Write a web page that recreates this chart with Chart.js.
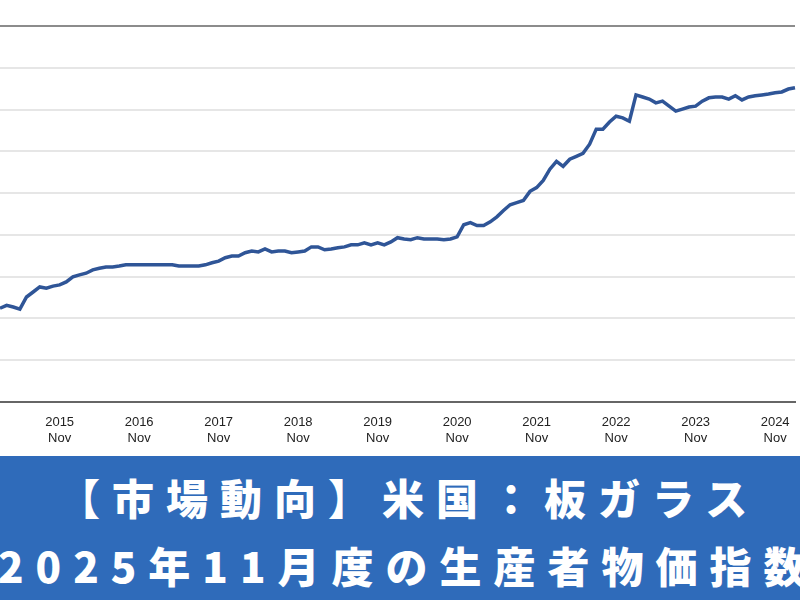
<!DOCTYPE html>
<html>
<head>
<meta charset="utf-8">
<script src="https://cdn.jsdelivr.net/npm/chart.js@4/dist/chart.umd.min.js"></script>
<style>
  body { margin: 0; width: 800px; height: 600px; overflow: hidden; background: #fff; font-family: "Liberation Sans", Arial, sans-serif; }
  #wrap { position: absolute; left: -5px; top: 0; width: 805px; height: 456px; }
  #banner { position: absolute; left: 0; top: 456px; width: 800px; height: 144px; background: #2f6bba; overflow: hidden; }
  .t { position: absolute; white-space: nowrap; color: #fff; font-family: "Noto Sans CJK JP", sans-serif; font-weight: 900; font-size: 42px; letter-spacing: 12px; line-height: 1; }
</style>
</head>
<body>
<div id="wrap"><canvas id="myChart" width="805" height="456"></canvas></div>
<div id="banner">
  <div class="t" style="left:58px; top:20px;">【市場動向】米国：板ガラス</div>
  <div class="t" style="left:-2px; top:88px;">2025年11月度の生産者物価指数</div>
</div>
<script>
// monthly, Feb 2015 .. Feb 2025 (index values)
var years = ['2015', '2016', '2017', '2018', '2019', '2020', '2021', '2022', '2023', '2024'];
var firstNov = 9;
var values = [
  22.4, 23.1, 22.7, 22.2, 25.1, 26.3, 27.5, 27.2, 27.7, 28.0,
  28.7, 29.9, 30.4, 30.8, 31.6, 32.0, 32.3, 32.3, 32.5, 32.8,
  32.8, 32.8, 32.8, 32.8, 32.8, 32.8, 32.8, 32.5, 32.5, 32.5,
  32.5, 32.8, 33.3, 33.7, 34.5, 34.9, 34.9, 35.7, 36.1, 35.9,
  36.6, 35.9, 36.1, 36.1, 35.7, 35.9, 36.1, 37.1, 37.1, 36.4,
  36.6, 36.9, 37.1, 37.6, 37.6, 38.1, 37.6, 38.1, 37.6, 38.3,
  39.3, 39.0, 38.8, 39.3, 39.0, 39.0, 39.0, 38.8, 39.0, 39.5,
  42.4, 42.9, 42.2, 42.2, 43.1, 44.3, 45.8, 47.2, 47.7, 48.2,
  50.4, 51.3, 53.0, 55.7, 57.6, 56.4, 58.1, 58.8, 59.5, 61.7,
  65.3, 65.3, 67.0, 68.4, 68.0, 67.2, 73.5, 73.0, 72.5, 71.6,
  72.0, 70.8, 69.6, 70.1, 70.6, 70.8, 72.0, 72.8, 73.0, 73.0,
  72.5, 73.3, 72.3, 73.0, 73.3, 73.5, 73.7, 74.0, 74.2, 74.9,
  75.2
];

var labels = values.map(function (v, i) {
  var k = i - firstNov;
  if (k >= 0 && k % 12 === 0 && years[k / 12]) return [years[k / 12], 'Nov'];
  return '';
});

var ctx = document.getElementById('myChart').getContext('2d');
var chart = new Chart(ctx, {
  type: 'line',
  data: {
    labels: labels,
    datasets: [{
      data: values,
      borderColor: '#2f5597',
      borderWidth: 3.5,
      pointRadius: 0,
      tension: 0,
      fill: false
    }]
  },
  options: {
    animation: false,
    responsive: false,
    layout: { padding: { top: 26, bottom: 5, left: 0, right: 0 } },
    plugins: { legend: { display: false }, tooltip: { enabled: false } },
    scales: {
      x: {
        offset: false,
        grid: { display: false },
        border: { color: '#666', width: 2 },
        ticks: {
          autoSkip: false, maxRotation: 0, color: '#222',
          font: { family: 'Liberation Sans', size: 13 }, padding: 5,
          callback: function (v, i) { return labels[i]; }
        }
      },
      y: {
        min: 0, max: 90,
        afterFit: function (s) { s.width = 0; },
        ticks: { display: false, stepSize: 10 },
        border: { display: false },
        grid: {
          drawTicks: false, lineWidth: 2,
          color: function (c) { return c.tick.value === 90 ? '#8c8c8c' : '#e6e6e6'; }
        }
      }
    }
  }
});
</script>
</body>
</html>
